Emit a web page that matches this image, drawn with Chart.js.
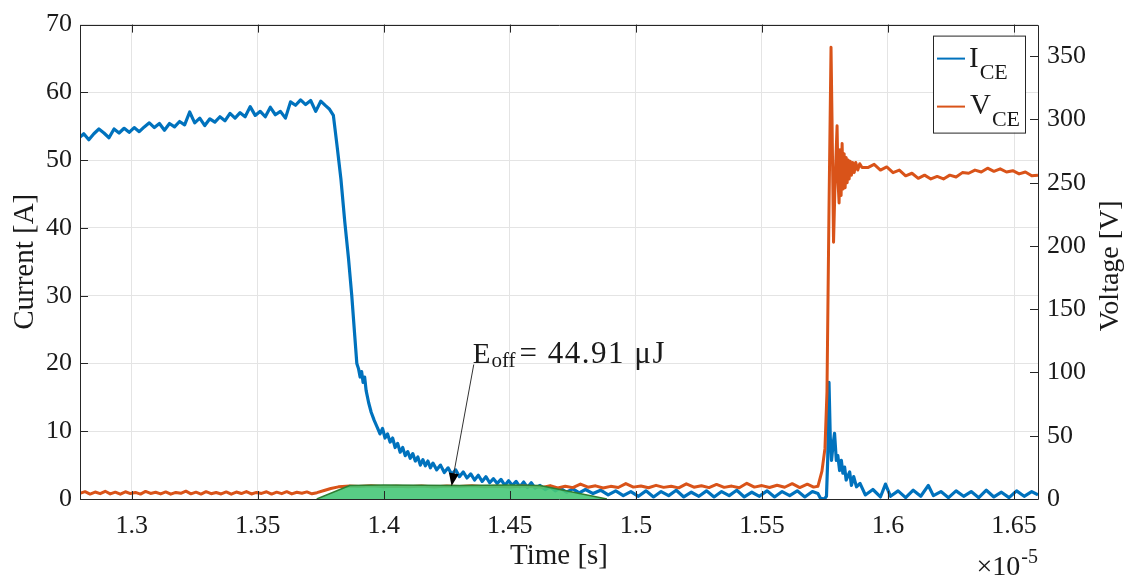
<!DOCTYPE html>
<html>
<head>
<meta charset="utf-8">
<title>IGBT turn-off</title>
<script src="https://cdn.jsdelivr.net/npm/chart.js@4.4.1/dist/chart.umd.min.js"></script>
<style>
  html, body { margin: 0; padding: 0; background: #fff; }
  canvas { display: block; }
</style>
</head>
<body>
<canvas id="turnoff" width="1133" height="580"></canvas>
<script>
// time values are in units of 1e-5 s (axis shows the x10^-5 multiplier)
var timeTicks = [1.3, 1.35, 1.4, 1.45, 1.5, 1.55, 1.6, 1.65];
var currentTicks = [0, 10, 20, 30, 40, 50, 60, 70];
var voltageTicks = [0, 50, 100, 150, 200, 250, 300, 350];

var timeI = [
  1.2795, 1.281, 1.283, 1.285, 1.287, 1.289, 1.291, 1.293, 1.295, 1.297,
  1.299, 1.301, 1.303, 1.305, 1.307, 1.309, 1.311, 1.313, 1.315, 1.317,
  1.319, 1.321, 1.323, 1.325, 1.327, 1.329, 1.331, 1.333, 1.335, 1.337,
  1.339, 1.341, 1.343, 1.345, 1.347, 1.349, 1.351, 1.353, 1.355, 1.357,
  1.359, 1.361, 1.363, 1.365, 1.367, 1.369, 1.371, 1.373, 1.375, 1.377,
  1.3785, 1.3800, 1.3815, 1.3830, 1.3845, 1.3860, 1.3873, 1.3885, 1.3893, 1.3900,
  1.3906, 1.3912, 1.3918, 1.3924, 1.3930, 1.3940, 1.3950, 1.3962, 1.3975, 1.3985,
  1.3995, 1.4005, 1.4015, 1.4025, 1.4035, 1.4045, 1.4055, 1.4065, 1.4075, 1.4085,
  1.4095, 1.4105, 1.4115, 1.4125, 1.4135, 1.4145, 1.4155, 1.4165, 1.4175, 1.4185,
  1.4195, 1.4210, 1.4225, 1.4240, 1.4255, 1.4270, 1.4285, 1.4300, 1.4315, 1.4330,
  1.4345, 1.4360, 1.4375, 1.4390, 1.4405, 1.4420, 1.4435, 1.4450, 1.4465, 1.4480,
  1.4495, 1.4510, 1.4525, 1.4540, 1.4555, 1.4570, 1.4585, 1.4600, 1.4620, 1.4640,
  1.4660, 1.4680, 1.4700, 1.4725, 1.4750, 1.4775, 1.4800, 1.4830, 1.4860, 1.4890,
  1.4920, 1.4950, 1.4980, 1.501, 1.504, 1.507, 1.510, 1.513, 1.516, 1.519,
  1.522, 1.525, 1.528, 1.531, 1.534, 1.537, 1.540, 1.543, 1.546, 1.549,
  1.552, 1.555, 1.558, 1.561, 1.564, 1.567, 1.570, 1.5722, 1.5732, 1.5748,
  1.5756, 1.5761, 1.5766, 1.5771, 1.5776, 1.5782, 1.5788, 1.5795, 1.5801, 1.5808,
  1.5815, 1.5821, 1.5828, 1.5834, 1.5848, 1.5855, 1.5864, 1.5875, 1.5889, 1.591,
  1.594, 1.597, 1.599, 1.601, 1.604, 1.607, 1.610, 1.613, 1.616, 1.618,
  1.621, 1.624, 1.627, 1.630, 1.633, 1.636, 1.639, 1.642, 1.645, 1.648,
  1.651, 1.654, 1.657, 1.6595
];
var currentCE = [
  53.4, 53.9, 53.0, 53.9, 54.6, 54.0, 53.3, 54.6, 54.0, 54.7,
  54.1, 54.8, 54.2, 54.9, 55.5, 54.8, 55.4, 54.4, 55.4, 54.9,
  55.7, 55.2, 57.1, 55.5, 56.2, 55.1, 56.1, 55.6, 56.4, 55.8,
  56.9, 56.2, 57.0, 56.4, 57.9, 56.6, 57.2, 56.4, 57.8, 56.7,
  57.2, 56.2, 58.6, 58.1, 58.9, 58.2, 58.8, 57.2, 58.7, 58.0,
  57.5, 56.6, 52.0, 47.2, 41.0, 35.5, 30.0, 24.0, 20.0, 19.2,
  18.0, 18.8, 17.2, 18.0, 16.0, 14.2, 12.8, 11.6, 10.5, 9.6,
  10.4, 9.0, 9.6, 8.4, 9.0, 7.6, 8.2, 6.9, 7.6, 6.4,
  7.0, 6.0, 6.7, 5.6, 6.2, 5.0, 5.8, 4.9, 5.6, 4.6,
  5.3, 4.3, 5.0, 3.9, 4.6, 3.6, 4.3, 3.3, 4.0, 3.1,
  3.7, 2.8, 3.5, 2.6, 3.3, 2.4, 3.0, 2.3, 2.9, 2.0,
  2.7, 2.0, 2.6, 1.8, 2.5, 1.7, 2.4, 1.6, 2.0, 1.4,
  1.8, 1.2, 1.6, 1.0, 1.5, 0.9, 1.4, 0.8, 1.3, 0.6,
  1.2, 0.5, 1.1, 0.4, 1.2, 0.3, 1.1, 0.5, 1.3, 0.3,
  1.0, 0.4, 1.2, 0.3, 1.1, 0.5, 1.3, 0.3, 1.0, 0.4,
  1.2, 0.3, 1.1, 0.5, 1.2, 0.3, 1.1, 0.8, 0.1, 0.0,
  0.4, 6.0, 17.2, 9.1, 5.7, 8.0, 9.7, 5.7, 6.4, 4.2,
  5.7, 3.8, 4.7, 2.8, 4.0, 2.0, 3.3, 1.8, 2.3, 0.6,
  1.4, 0.3, 2.2, 0.4, 1.2, 0.2, 1.3, 0.4, 2.0, 0.5,
  1.1, 0.2, 1.2, 0.4, 1.1, 0.2, 1.3, 0.3, 1.0, 0.2,
  1.2, 0.4, 1.1, 0.6
];

var timeV = [
  1.2795, 1.2815, 1.2835, 1.2855, 1.2875, 1.2895, 1.2915, 1.2935, 1.2955, 1.2975,
  1.2995, 1.3015, 1.3035, 1.3055, 1.3075, 1.3095, 1.3115, 1.3135, 1.3155, 1.3175,
  1.3195, 1.3215, 1.3235, 1.3255, 1.3275, 1.3295, 1.3315, 1.3335, 1.3355, 1.3375,
  1.3395, 1.3415, 1.3435, 1.3455, 1.3475, 1.3495, 1.3515, 1.3535, 1.3555, 1.3575,
  1.3595, 1.3615, 1.3635, 1.3655, 1.3675, 1.3695, 1.3715, 1.3735, 1.3760, 1.3790,
  1.3820, 1.3865, 1.3900, 1.3950, 1.4000, 1.4050, 1.4100, 1.4150, 1.4200, 1.4250,
  1.4300, 1.4350, 1.4400, 1.4450, 1.4500, 1.4550, 1.4600, 1.463, 1.466, 1.469,
  1.472, 1.475, 1.478, 1.481, 1.484, 1.487, 1.490, 1.493, 1.496, 1.499,
  1.502, 1.505, 1.508, 1.511, 1.514, 1.517, 1.520, 1.523, 1.526, 1.529,
  1.532, 1.535, 1.538, 1.541, 1.544, 1.547, 1.550, 1.553, 1.556, 1.559,
  1.562, 1.565, 1.568, 1.5705, 1.5722, 1.5738, 1.5750, 1.5758, 1.5766, 1.5774,
  1.5778, 1.5784, 1.5790, 1.5798, 1.5802, 1.5806, 1.5810, 1.5814, 1.5818, 1.5822,
  1.5826, 1.5830, 1.5834, 1.5838, 1.5842, 1.5846, 1.5850, 1.5855, 1.5860, 1.5866,
  1.5872, 1.5880, 1.5888, 1.5897, 1.5920, 1.5945, 1.5970, 1.5995, 1.6020,
  1.6045, 1.6070, 1.6095, 1.6120, 1.6145, 1.6170, 1.6195, 1.6220, 1.6245, 1.6270,
  1.6295, 1.6320, 1.6345, 1.6370, 1.6395, 1.6420, 1.6445, 1.6470, 1.6495, 1.6520,
  1.6545, 1.6570, 1.6595
];
var voltageCE = [
  4.5, 5.8, 3.9, 5.5, 4.2, 6.1, 4.0, 5.4, 3.8, 5.7,
  4.3, 5.2, 3.9, 6.0, 4.4, 5.3, 4.0, 5.6, 3.8, 5.2,
  4.5, 6.2, 4.1, 5.4, 3.9, 5.8, 4.2, 5.1, 4.0, 5.6,
  3.8, 5.5, 4.3, 5.9, 4.0, 5.2, 4.4, 5.7, 3.9, 5.4,
  4.2, 5.8, 4.0, 5.3, 4.5, 5.6, 4.1, 5.0, 6.5, 8.3,
  9.6, 10.2, 9.8, 10.4, 9.6, 10.1, 9.7, 10.3, 9.5, 10.2,
  9.8, 10.4, 9.6, 10.0, 9.5, 10.2, 9.7, 9.2, 10.6, 8.8,
  10.1, 9.0, 11.8, 9.3, 10.4, 8.7, 10.0, 9.1, 12.2, 9.4,
  10.3, 8.9, 10.8, 9.2, 10.1, 8.8, 12.0, 9.3, 10.5, 9.0,
  11.5, 9.2, 10.2, 8.9, 12.4, 9.4, 10.6, 9.1, 10.9, 9.3,
  12.1, 9.0, 11.7, 9.4, 10.0, 22, 40, 85, 230, 357,
  300, 203, 250, 295, 250, 234, 276, 240, 281, 245,
  273, 246, 270, 250, 268, 253, 267, 256, 266, 258,
  266, 260, 265, 262, 262, 264.5, 260, 262.5, 258,
  260, 255.5, 257.5, 253.5, 256, 253, 255, 253, 256, 254.5,
  258, 257.5, 260, 258.5, 261.5, 259, 261, 258.5, 259.5, 257,
  258.5, 255.5, 256
];

// shaded turn-off energy region (drawn on the current axis)
var timeE = [1.3734, 1.3865, 1.4000, 1.4300, 1.4500, 1.4619, 1.4885];
var areaE = [0, 2.0, 2.05, 2.0, 2.05, 2.0, 0];

var eoffText = { main: "E", sub: "off", rest: "= 44.91 \u03bcJ" };
var eoffAt = { x: 1.4353, y: 20.0 };
var eoffTip = { x: 1.4269, y: 1.9 };

var serif = '"Liberation Serif", "Times New Roman", serif';
var inkColor = "#1a1a1a";
var blue = "#0072BD";
var orange = "#D95319";

function points(xs, ys) {
  return xs.map(function (x, i) {
    return { x: x, y: ys[i] };
  });
}

function subText(ctx, main, sub, x, y, size, subSize, drop) {
  ctx.font = size + "px " + serif;
  ctx.fillText(main, x, y);
  var w = ctx.measureText(main).width;
  ctx.font = subSize + "px " + serif;
  ctx.fillText(sub, x + w + 1, y + drop);
  return x + w + 1 + ctx.measureText(sub).width;
}

var matlabLook = {
  id: "matlabLook",
  afterDraw: function (chart) {
    var ctx = chart.ctx;
    var a = chart.chartArea;
    var sx = chart.scales.x;
    var sy = chart.scales.y;
    var sv = chart.scales.y2;
    ctx.save();

    // box and inward ticks
    ctx.strokeStyle = "#262626";
    ctx.lineWidth = 1;
    ctx.beginPath();
    ctx.rect(Math.round(a.left) + 0.5, Math.round(a.top) + 0.5, Math.round(a.right - a.left), Math.round(a.bottom - a.top));
    timeTicks.forEach(function (t) {
      var px = Math.round(sx.getPixelForValue(t)) + 0.5;
      ctx.moveTo(px, a.bottom);
      ctx.lineTo(px, a.bottom - 8);
      ctx.moveTo(px, a.top);
      ctx.lineTo(px, a.top + 8);
    });
    currentTicks.forEach(function (v) {
      var py = Math.round(sy.getPixelForValue(v)) + 0.5;
      ctx.moveTo(a.left, py);
      ctx.lineTo(a.left + 8, py);
    });
    voltageTicks.forEach(function (v) {
      var py = Math.round(sv.getPixelForValue(v)) + 0.5;
      ctx.moveTo(a.right, py);
      ctx.lineTo(a.right - 8, py);
    });
    ctx.stroke();

    // annotation with arrow
    var tx = sx.getPixelForValue(eoffAt.x);
    var ty = sy.getPixelForValue(eoffAt.y);
    var hx = sx.getPixelForValue(eoffTip.x);
    var hy = sy.getPixelForValue(eoffTip.y);
    var ang = Math.atan2(hy - ty, hx - tx);
    ctx.strokeStyle = "#333";
    ctx.beginPath();
    ctx.moveTo(tx + 1, ty + 1);
    ctx.lineTo(hx - 12 * Math.cos(ang), hy - 12 * Math.sin(ang));
    ctx.stroke();
    ctx.fillStyle = "#000";
    ctx.beginPath();
    ctx.moveTo(hx, hy);
    ctx.lineTo(hx - 13 * Math.cos(ang) + 5 * Math.sin(ang), hy - 13 * Math.sin(ang) - 5 * Math.cos(ang));
    ctx.lineTo(hx - 13 * Math.cos(ang) - 5 * Math.sin(ang), hy - 13 * Math.sin(ang) + 5 * Math.cos(ang));
    ctx.closePath();
    ctx.fill();

    ctx.fillStyle = inkColor;
    ctx.textAlign = "left";
    ctx.textBaseline = "alphabetic";
    var end = subText(ctx, eoffText.main, eoffText.sub, tx, ty, 29, 21, 4);
    ctx.font = "31px " + serif;
    ctx.letterSpacing = "1.5px";
    ctx.fillText(eoffText.rest, end + 4, ty);
    ctx.letterSpacing = "0px";

    // legend
    var lx = a.right - 13 - 92;
    var ly = a.top + 11;
    ctx.fillStyle = "#fff";
    ctx.fillRect(lx, ly, 92, 97);
    ctx.strokeStyle = "#262626";
    ctx.strokeRect(lx + 0.5, ly + 0.5, 92, 97);
    ctx.lineWidth = 2;
    ctx.strokeStyle = blue;
    ctx.beginPath();
    ctx.moveTo(lx + 4, ly + 23);
    ctx.lineTo(lx + 32, ly + 23);
    ctx.stroke();
    ctx.strokeStyle = orange;
    ctx.beginPath();
    ctx.moveTo(lx + 4, ly + 71);
    ctx.lineTo(lx + 32, ly + 71);
    ctx.stroke();
    ctx.fillStyle = inkColor;
    subText(ctx, "I", "CE", lx + 36, ly + 31, 29, 22, 12);
    subText(ctx, "V", "CE", lx + 37, ly + 78, 29, 22, 12);

    // right axis title, reading bottom to top like the left one
    ctx.save();
    ctx.translate(chart.width - 22, (a.top + a.bottom) / 2 + 4);
    ctx.rotate(-Math.PI / 2);
    ctx.textAlign = "center";
    ctx.textBaseline = "middle";
    ctx.font = "28px " + serif;
    ctx.fillText("Voltage [V]", 0, 0);
    ctx.restore();

    // exponent of the time axis
    ctx.textAlign = "right";
    ctx.font = "20px " + serif;
    ctx.fillText("-5", a.right, 563);
    var ew = ctx.measureText("-5").width;
    ctx.font = "28px " + serif;
    ctx.fillText("\u00d710", a.right - ew - 1, 575);

    ctx.restore();
  },
};

var tickFont = { family: serif, size: 26 };
var titleFont = { family: serif, size: 29 };

new Chart(document.getElementById("turnoff"), {
  type: "line",
  data: {
    datasets: [
      {
        label: "Eoff",
        data: points(timeE, areaE),
        yAxisID: "y",
        borderColor: "#2e7d32",
        borderWidth: 1.5,
        backgroundColor: "rgba(70, 200, 120, 0.9)",
        fill: "origin",
        order: 0,
      },
      {
        label: "VCE",
        data: points(timeV, voltageCE),
        yAxisID: "y2",
        borderColor: orange,
        borderWidth: 3,
        fill: false,
        order: 1,
      },
      {
        label: "ICE",
        data: points(timeI, currentCE),
        yAxisID: "y",
        borderColor: blue,
        borderWidth: 3.2,
        fill: false,
        order: 2,
      },
    ],
  },
  options: {
    responsive: false,
    animation: false,
    layout: { padding: { top: 21, left: 0, right: 0, bottom: 0 } },
    elements: {
      point: { radius: 0 },
      line: { tension: 0, borderJoinStyle: "round" },
    },
    plugins: {
      legend: { display: false },
      tooltip: { enabled: false },
    },
    scales: {
      x: {
        type: "linear",
        min: 1.2795,
        max: 1.6595,
        afterBuildTicks: function (s) {
          s.ticks = timeTicks.map(function (v) { return { value: v }; });
        },
        afterFit: function (s) { s.height = 81; },
        grid: { color: "#e4e4e4", drawTicks: false },
        border: { display: false },
        ticks: {
          padding: 12,
          color: inkColor,
          font: tickFont,
          maxRotation: 0,
          callback: function (v) { return String(v); },
        },
        title: { display: true, text: "Time [s]", color: inkColor, font: titleFont, padding: { top: 0, bottom: 6 } },
      },
      y: {
        position: "left",
        min: 0,
        max: 70,
        afterBuildTicks: function (s) {
          s.ticks = currentTicks.map(function (v) { return { value: v }; });
        },
        afterFit: function (s) { s.width = 80; },
        grid: { color: "#e4e4e4", drawTicks: false },
        border: { display: false },
        ticks: { padding: 8, color: inkColor, font: tickFont },
        title: { display: true, text: "Current [A]", color: inkColor, font: titleFont, padding: { top: 8, bottom: 0 } },
      },
      y2: {
        position: "right",
        min: 0,
        max: 375,
        afterBuildTicks: function (s) {
          s.ticks = voltageTicks.map(function (v) { return { value: v }; });
        },
        afterFit: function (s) { s.width = 95; },
        grid: { display: false, drawTicks: false },
        border: { display: false },
        ticks: { padding: 9, color: inkColor, font: tickFont },
      },
    },
  },
  plugins: [matlabLook],
});
</script>
</body>
</html>
